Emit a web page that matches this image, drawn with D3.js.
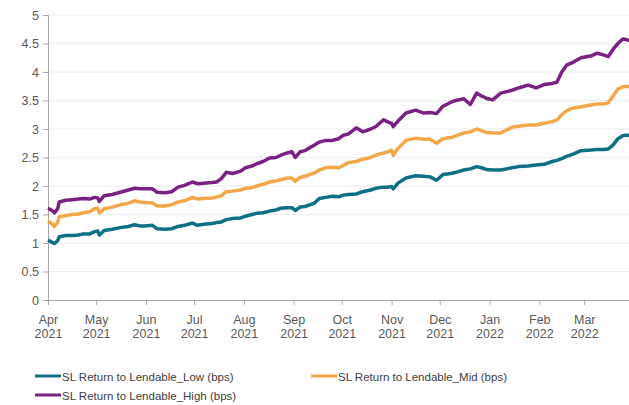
<!DOCTYPE html>
<html>
<head>
<meta charset="utf-8">
<script src="https://cdn.jsdelivr.net/npm/d3@7"></script>
<style>
  html, body { margin: 0; padding: 0; background: #fff; }
  svg { display: block; font-family: "Liberation Sans", Arial, sans-serif; }
</style>
</head>
<body>
<svg id="chart" width="629" height="405"></svg>
<script>
const dates = ["2021-04-01","2021-04-03","2021-04-05","2021-04-07","2021-04-08","2021-04-12","2021-04-16","2021-04-20","2021-04-23","2021-04-27",
"2021-04-30","2021-05-02","2021-05-03","2021-05-06","2021-05-11","2021-05-16","2021-05-21","2021-05-25","2021-05-28","2021-05-31",
"2021-06-05","2021-06-08","2021-06-13","2021-06-17","2021-06-21","2021-06-25","2021-06-30","2021-07-03","2021-07-07","2021-07-12",
"2021-07-15","2021-07-18","2021-07-21","2021-07-25","2021-07-30","2021-08-02","2021-08-06","2021-08-09","2021-08-13","2021-08-17",
"2021-08-21","2021-08-24","2021-08-28","2021-08-31","2021-09-02","2021-09-05","2021-09-08","2021-09-11","2021-09-14","2021-09-17",
"2021-09-21","2021-09-25","2021-09-29","2021-10-02","2021-10-05","2021-10-10","2021-10-14","2021-10-19","2021-10-22","2021-10-27",
"2021-10-30","2021-11-01","2021-11-02","2021-11-05","2021-11-10","2021-11-16","2021-11-21","2021-11-25","2021-11-29","2021-12-03",
"2021-12-08","2021-12-11","2021-12-16","2021-12-20","2021-12-24","2021-12-27","2021-12-30","2022-01-03","2022-01-08","2022-01-15",
"2022-01-19","2022-01-25","2022-01-30","2022-02-04","2022-02-09","2022-02-12","2022-02-15","2022-02-18","2022-02-22","2022-02-27",
"2022-03-05","2022-03-09","2022-03-13","2022-03-16","2022-03-19","2022-03-22","2022-03-25","2022-03-27","2022-03-29"];

const lowValues = [1.05,1.02,0.99,1.04,1.11,1.13,1.13,1.14,1.16,1.16,
1.20,1.21,1.14,1.22,1.24,1.27,1.29,1.32,1.30,1.30,
1.31,1.25,1.24,1.25,1.29,1.31,1.35,1.31,1.33,1.34,
1.36,1.37,1.41,1.43,1.44,1.47,1.50,1.52,1.53,1.56,
1.58,1.61,1.62,1.62,1.57,1.63,1.64,1.67,1.70,1.78,
1.80,1.82,1.81,1.84,1.85,1.86,1.90,1.93,1.96,1.98,
1.98,1.99,1.95,2.05,2.14,2.18,2.17,2.16,2.10,2.20,
2.22,2.24,2.28,2.30,2.34,2.32,2.29,2.28,2.28,2.32,
2.34,2.35,2.37,2.38,2.43,2.45,2.48,2.52,2.56,2.62,
2.63,2.64,2.64,2.65,2.72,2.83,2.88,2.89,2.89];

const midValues = [1.38,1.35,1.29,1.36,1.46,1.48,1.50,1.51,1.53,1.55,
1.60,1.61,1.53,1.60,1.63,1.67,1.70,1.74,1.72,1.71,
1.70,1.65,1.65,1.67,1.72,1.74,1.80,1.77,1.78,1.79,
1.81,1.83,1.90,1.91,1.93,1.96,1.97,2.00,2.03,2.07,
2.09,2.11,2.14,2.14,2.08,2.15,2.17,2.20,2.23,2.28,
2.32,2.33,2.32,2.36,2.41,2.43,2.47,2.50,2.54,2.58,
2.60,2.63,2.54,2.66,2.80,2.84,2.82,2.82,2.75,2.83,
2.85,2.88,2.93,2.95,3.00,2.97,2.94,2.93,2.93,3.03,
3.05,3.07,3.07,3.10,3.13,3.16,3.25,3.32,3.37,3.39,
3.42,3.44,3.44,3.46,3.58,3.70,3.74,3.75,3.74];

const highValues = [1.61,1.58,1.53,1.60,1.72,1.75,1.76,1.77,1.78,1.77,
1.80,1.79,1.73,1.83,1.85,1.89,1.93,1.96,1.95,1.95,
1.95,1.89,1.88,1.90,1.98,2.01,2.07,2.04,2.05,2.06,
2.07,2.13,2.24,2.22,2.26,2.32,2.35,2.39,2.43,2.49,
2.50,2.54,2.58,2.60,2.50,2.60,2.62,2.67,2.72,2.77,
2.80,2.80,2.83,2.89,2.91,3.02,2.95,3.00,3.04,3.16,
3.12,3.10,3.04,3.14,3.28,3.33,3.28,3.29,3.27,3.40,
3.47,3.50,3.53,3.43,3.63,3.58,3.54,3.51,3.63,3.68,
3.72,3.77,3.72,3.78,3.80,3.82,4.00,4.12,4.17,4.25,
4.28,4.33,4.30,4.27,4.40,4.50,4.58,4.57,4.55];

const seriesNames = ["SL Return to Lendable_Low (bps)", "SL Return to Lendable_Mid (bps)", "SL Return to Lendable_High (bps)"];
const seriesColors = ["#0e6f85", "#f4a74a", "#7a2283"];
const yTicks = [0, 0.5, 1, 1.5, 2, 2.5, 3, 3.5, 4, 4.5, 5];
const monthTicks = ["2021-04-01","2021-05-01","2021-06-01","2021-07-01","2021-08-01","2021-09-01","2021-10-01","2021-11-01","2021-12-01","2022-01-01","2022-02-01","2022-03-01"];

const parse = d3.timeParse("%Y-%m-%d");
const svg = d3.select("#chart");

const x = d3.scaleTime().domain([parse("2021-04-01"), parse("2022-04-01")]).range([48, 634]);
const y = d3.scaleLinear().domain([0, 5]).range([300, 15]);

// gridlines
svg.append("g").selectAll("line").data(yTicks.filter(v => v > 0)).join("line")
  .attr("x1", 48).attr("x2", 629)
  .attr("y1", d => y(d)).attr("y2", d => y(d))
  .attr("stroke", "#ececec").attr("stroke-width", 1);

// y axis
const yAxis = svg.append("g").attr("transform", "translate(48,0)")
  .call(d3.axisLeft(y).tickValues(yTicks).tickSize(5).tickPadding(4).tickFormat(d3.format("")));
yAxis.select(".domain").attr("stroke", "#a6a6a6");
yAxis.selectAll(".tick line").attr("stroke", "#a6a6a6");
yAxis.selectAll("text").attr("fill", "#595959").style("font-size", "12.5px")
  .style("font-family", "'Liberation Sans', Arial, sans-serif");

// x axis
const xAxis = svg.append("g").attr("transform", "translate(0,300)")
  .call(d3.axisBottom(x).tickValues(monthTicks.map(parse)).tickSize(5).tickFormat(() => ""));
xAxis.select(".domain").attr("stroke", "#a6a6a6");
xAxis.selectAll(".tick line").attr("stroke", "#a6a6a6");
const fmtM = d3.timeFormat("%b"), fmtY = d3.timeFormat("%Y");
xAxis.selectAll(".tick").each(function(d) {
  const t = d3.select(this).append("text").attr("fill", "#595959")
    .style("font-size", "12.5px").style("font-family", "'Liberation Sans', Arial, sans-serif")
    .attr("text-anchor", "middle");
  t.append("tspan").attr("x", 0).attr("y", 24).text(fmtM(d));
  t.append("tspan").attr("x", 0).attr("y", 38).text(fmtY(d));
});

// lines
const allSeries = [lowValues, midValues, highValues];
const line = d3.line().x(d => x(d.date)).y(d => y(d.value));
allSeries.forEach((vals, i) => {
  const pts = dates.map((dd, j) => ({ date: parse(dd), value: vals[j] }));
  svg.append("path").datum(pts)
    .attr("fill", "none").attr("stroke", seriesColors[i])
    .attr("stroke-width", 3.5).attr("stroke-linejoin", "round")
    .attr("d", line);
});

// legend
const legendPos = [[35, 376], [311, 376], [35, 395]];
seriesNames.forEach((name, i) => {
  const [lx, ly] = legendPos[i];
  const g = svg.append("g");
  g.append("line").attr("x1", lx).attr("x2", lx + 26).attr("y1", ly).attr("y2", ly)
    .attr("stroke", seriesColors[i]).attr("stroke-width", 3);
  g.append("text").attr("x", lx + 27).attr("y", ly + 4.5)
    .attr("fill", "#404040").style("font-size", "11.5px")
    .style("font-family", "'Liberation Sans', Arial, sans-serif")
    .text(name);
});
</script>
</body>
</html>
